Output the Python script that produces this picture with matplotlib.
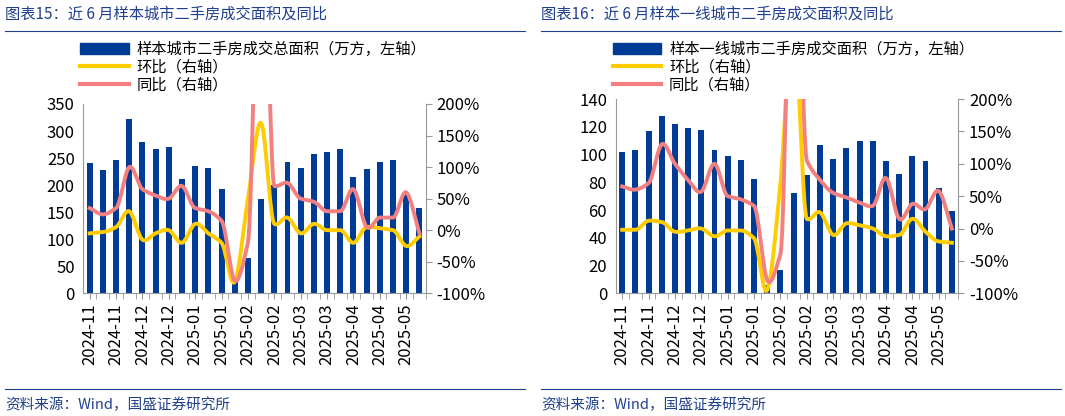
import numpy as np
import matplotlib.pyplot as plt
from matplotlib.lines import Line2D
from matplotlib.patches import Patch

plt.rcParams['font.family'] = ['Noto Sans CJK SC', 'DejaVu Sans']

# x tick labels (one every two bars)
tick_labels = ['2024-11', '2024-11', '2024-12', '2024-12', '2025-01', '2025-01', '2025-02',
               '2025-02', '2025-03', '2025-03', '2025-04', '2025-04', '2025-05']

# chart 15: sample cities
area15 = [241, 228, 247, 323, 280, 267, 271, 211, 236, 232, 193, 22, 65, 175, 200,
          243, 232, 258, 261, 267, 215, 230, 243, 247, 185, 158]
mom15 = [-5, -3, 5, 30, -15, -5, 0, -20, 10, -5, -20, -82, 50, 170, 10,
         20, -5, 10, 0, 0, -20, 5, 3, 0, -25, -10]
yoy15 = [35, 25, 35, 100, 65, 55, 50, 70, 35, 30, 15, -80, -20, 600, 70,
         75, 50, 45, 30, 30, 65, 5, 20, 20, 60, -5]

# chart 16: tier-1 cities
area16 = [102, 103, 117, 128, 122, 119, 118, 103, 99, 96, 82, 6, 17, 72, 85,
          107, 97, 105, 110, 110, 95, 86, 99, 95, 76, 59]
mom16 = [-2, -2, 12, 10, -5, -3, 0, -12, -3, -3, -15, -95, 70, 320, 15,
         25, -10, 8, 5, 0, -12, -10, 15, -5, -20, -22]
yoy16 = [65, 60, 70, 130, 100, 75, 57, 100, 50, 45, 35, -80, -40, 600, 105,
         75, 55, 48, 40, 35, 78, 15, 38, 30, 58, 0]

BAR = '#003C96'
YEL = '#FFCC00'
RED = '#F28080'
TITLE_C = '#1F3F8F'


def smooth(y, n=16):
    # cubic Hermite curve through the points, tangents limited to avoid overshoot near spikes
    y = np.asarray(y, float)
    d = np.diff(y)
    m = np.zeros_like(y)
    m[0], m[-1] = d[0], d[-1]
    for i in range(1, len(y) - 1):
        m[i] = (d[i - 1] + d[i]) / 2
        lim = 1.5 * min(abs(d[i - 1]), abs(d[i]))
        m[i] = np.clip(m[i], -lim, lim)
    xs, ys = [], []
    t = np.linspace(0, 1, n, endpoint=False)
    h00 = 2 * t ** 3 - 3 * t ** 2 + 1
    h10 = t ** 3 - 2 * t ** 2 + t
    h01 = -2 * t ** 3 + 3 * t ** 2
    h11 = t ** 3 - t ** 2
    for i in range(len(y) - 1):
        ys.append(h00 * y[i] + h10 * m[i] + h01 * y[i + 1] + h11 * m[i + 1])
        xs.append(i + t)
    xs.append([len(y) - 1]); ys.append([y[-1]])
    return np.concatenate(xs), np.concatenate(ys)


def panel(fig, rect, area, mom, yoy, ymax, ystep, bar_label, title, tx):
    ax = fig.add_axes(rect)
    x = np.arange(len(area))
    ax.bar(x, area, width=0.45, color=BAR, zorder=2)
    ax.set_xlim(-0.5, len(area) - 0.5)
    ax.set_ylim(0, ymax)
    ax.set_yticks(np.arange(0, ymax + 1, ystep))
    ax.set_xticks(np.arange(0, len(area), 2))
    ax.set_xticklabels(tick_labels, rotation=90, fontsize=12)
    ax.set_xticks(np.arange(len(area)) + 0.5, minor=True)
    ax.tick_params(axis='y', labelsize=12, length=0, pad=6)
    ax.tick_params(axis='x', which='both', length=4, color='#999999')
    for s in ['top', 'right']:
        ax.spines[s].set_visible(False)
    ax.spines['left'].set_color('#999999')
    ax.spines['bottom'].set_color('#999999')

    ax2 = ax.twinx()
    ax2.set_ylim(-100, 200)
    ax2.set_yticks(np.arange(-100, 201, 50))
    ax2.set_yticklabels([f'{v}%' for v in range(-100, 201, 50)])
    ax2.tick_params(axis='y', labelsize=12, length=4, color='#999999')
    for s in ['top', 'left', 'bottom']:
        ax2.spines[s].set_visible(False)
    ax2.spines['right'].set_color('#999999')
    sx, sy = smooth(mom)
    ax2.plot(sx, sy, color=YEL, lw=2.8, zorder=3)
    sx, sy = smooth(yoy)
    ax2.plot(sx, sy, color=RED, lw=2.8, zorder=4)

    handles = [Patch(color=BAR), Line2D([], [], color=YEL, lw=3), Line2D([], [], color=RED, lw=3)]
    labels = [bar_label, '环比（右轴）', '同比（右轴）']
    fig.legend(handles, labels, loc='upper left', bbox_to_anchor=(rect[0] - 0.01, 0.92),
               frameon=False, fontsize=11, handlelength=3.2, labelspacing=0.05,
               borderpad=0, handletextpad=0.5)

    fig.text(tx, 0.965, title, fontsize=11, color=TITLE_C, style='italic', va='center')
    fig.add_artist(Line2D([tx, tx + 0.488], [0.925, 0.925], color=TITLE_C, lw=0.8))
    fig.add_artist(Line2D([tx, tx + 0.488], [0.065, 0.065], color=TITLE_C, lw=0.8))
    fig.text(tx, 0.028, '资料来源：Wind，国盛证券研究所', fontsize=10.5, color=TITLE_C,
             style='italic', va='center')


fig = plt.figure(figsize=(10.65, 4.16), dpi=100)
panel(fig, [0.078, 0.295, 0.322, 0.455], area15, mom15, yoy15, 350, 50,
      '样本城市二手房成交总面积（万方，左轴）', '图表15：近 6 月样本城市二手房成交面积及同比', 0.005)
panel(fig, [0.578, 0.295, 0.322, 0.467], area16, mom16, yoy16, 140, 20,
      '样本一线城市二手房成交面积（万方，左轴）', '图表16：近 6 月样本一线城市二手房成交面积及同比', 0.508)
fig.savefig('out.png', dpi=100)
